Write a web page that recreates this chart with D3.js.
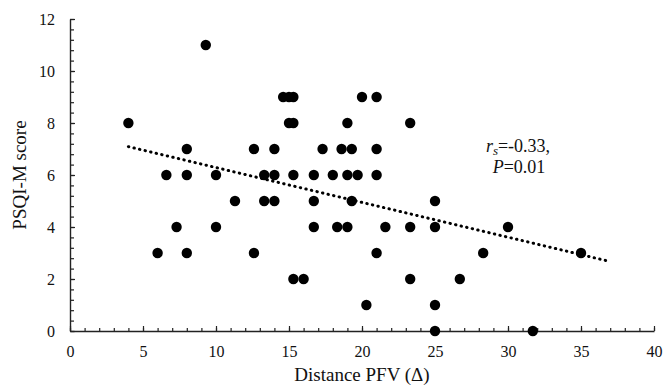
<!DOCTYPE html>
<html>
<head>
<meta charset="utf-8">
<script src="https://cdn.jsdelivr.net/npm/d3@7"></script>
<style>
  html, body { margin: 0; padding: 0; background: #fff; }
</style>
</head>
<body>
<div id="chart"></div>
<script>
// Distance PFV (x) vs PSQI-M score (y)
const distance = [
    9.3, 4, 8, 12.6, 6.6, 8, 10, 11.3, 7.3, 10, 6, 8, 12.6,
    14.6, 15, 15.3, 20, 21,
    15, 15.3, 19, 23.3,
    14, 17.3, 18.6, 19.3, 21,
    13.3, 14, 15.3, 16.7, 18, 19, 19.7, 21,
    13.3, 14, 16.7, 19.3, 25,
    16.7, 18.3, 19, 21.6, 23.3, 25,
    21,
    15.3, 16, 23.3,
    20.3, 25,
    25,
    30, 28.3, 26.7, 35, 31.7
];
const score = [
    11, 8, 7, 7, 6, 6, 6, 5, 4, 4, 3, 3, 3,
    9, 9, 9, 9, 9,
    8, 8, 8, 8,
    7, 7, 7, 7, 7,
    6, 6, 6, 6, 6, 6, 6, 6,
    5, 5, 5, 5, 5,
    4, 4, 4, 4, 4, 4,
    3,
    2, 2, 2,
    1, 1,
    0,
    4, 3, 2, 3, 0
];

// trend line
const trendX = [4, 37];
const trendY = [7.09, 2.67];

const xTicks = [0, 5, 10, 15, 20, 25, 30, 35, 40];
const yTicks = [0, 2, 4, 6, 8, 10, 12];

const width = 664, height = 392;
const margin = { top: 19, right: 10, bottom: 61, left: 70 };
const FONT = 'Liberation Serif';

const svg = d3.select('#chart')
    .append('svg')
    .attr('width', width)
    .attr('height', height)
    .attr('viewBox', `0 0 ${width} ${height}`)
    .attr('font-family', FONT);

const x = d3.scaleLinear().domain([0, 40]).range([margin.left, width - margin.right]);
const y = d3.scaleLinear().domain([0, 12]).range([height - margin.bottom, margin.top]);

// minor ticks first
svg.append('g')
    .attr('transform', `translate(0,${y(0)})`)
    .call(d3.axisBottom(x).tickValues(d3.range(0, 41, 1)).tickSize(-3).tickFormat(''))
    .call(g => g.select('.domain').remove())
    .selectAll('line').attr('stroke', '#222').attr('stroke-width', 1.2);

svg.append('g')
    .attr('transform', `translate(${x(0)},0)`)
    .call(d3.axisLeft(y).tickValues(d3.range(0, 12.01, 0.4)).tickSize(-4).tickFormat(''))
    .call(g => g.select('.domain').remove())
    .selectAll('line').attr('stroke', '#222').attr('stroke-width', 1.2);

// major axes
const xAxis = svg.append('g')
    .attr('transform', `translate(0,${y(0)})`)
    .call(d3.axisBottom(x).tickValues(xTicks).tickSize(-5).tickPadding(15).tickSizeOuter(0))
    .attr('font-family', FONT)
    .attr('font-size', 16);
xAxis.select('.domain').attr('stroke', '#222').attr('stroke-width', 1.4);
xAxis.selectAll('line').attr('stroke', '#222').attr('stroke-width', 1.2);
xAxis.selectAll('text').attr('fill', '#111');

const yAxis = svg.append('g')
    .attr('transform', `translate(${x(0)},0)`)
    .call(d3.axisLeft(y).tickValues(yTicks).tickSize(-5).tickPadding(15).tickSizeOuter(0))
    .attr('font-family', FONT)
    .attr('font-size', 16);
yAxis.select('.domain').attr('stroke', '#222').attr('stroke-width', 1.4);
yAxis.selectAll('line').attr('stroke', '#222').attr('stroke-width', 1.2);
yAxis.selectAll('text').attr('fill', '#111');

// axis titles
svg.append('text')
    .attr('x', (x(0) + x(40)) / 2)
    .attr('y', 381)
    .attr('text-anchor', 'middle')
    .attr('font-size', 19)
    .attr('fill', '#111')
    .text('Distance PFV (Δ)');

svg.append('text')
    .attr('transform', `translate(26,${(y(0) + y(12)) / 2}) rotate(-90)`)
    .attr('text-anchor', 'middle')
    .attr('font-size', 19)
    .attr('fill', '#111')
    .text('PSQI-M score');

// points
const pts = distance.map((d, i) => ({ x: d, y: score[i] }));
svg.append('g')
    .selectAll('circle')
    .data(pts)
    .join('circle')
    .attr('cx', d => x(d.x))
    .attr('cy', d => y(d.y))
    .attr('r', 5.2)
    .attr('fill', '#000');

// dotted trend line
const line = d3.line().x(d => x(d[0])).y(d => y(d[1]));
svg.append('path')
    .datum(trendX.map((d, i) => [d, trendY[i]]))
    .attr('d', line)
    .attr('fill', 'none')
    .attr('stroke', '#000')
    .attr('stroke-width', 3)
    .attr('stroke-linecap', 'round')
    .attr('stroke-dasharray', '0.4 5.3');

// correlation note
const note = svg.append('text')
    .attr('x', 518)
    .attr('y', 152)
    .attr('text-anchor', 'middle')
    .attr('font-size', 18)
    .attr('fill', '#111');
note.append('tspan').attr('font-style', 'italic').text('r');
note.append('tspan').attr('font-style', 'italic').attr('font-size', 13).attr('dy', 3).text('s');
note.append('tspan').attr('dy', -3).text('=-0.33,');

const note2 = svg.append('text')
    .attr('x', 519)
    .attr('y', 173)
    .attr('text-anchor', 'middle')
    .attr('font-size', 18)
    .attr('fill', '#111');
note2.append('tspan').attr('font-style', 'italic').text('P');
note2.append('tspan').text('=0.01');
</script>
</body>
</html>
